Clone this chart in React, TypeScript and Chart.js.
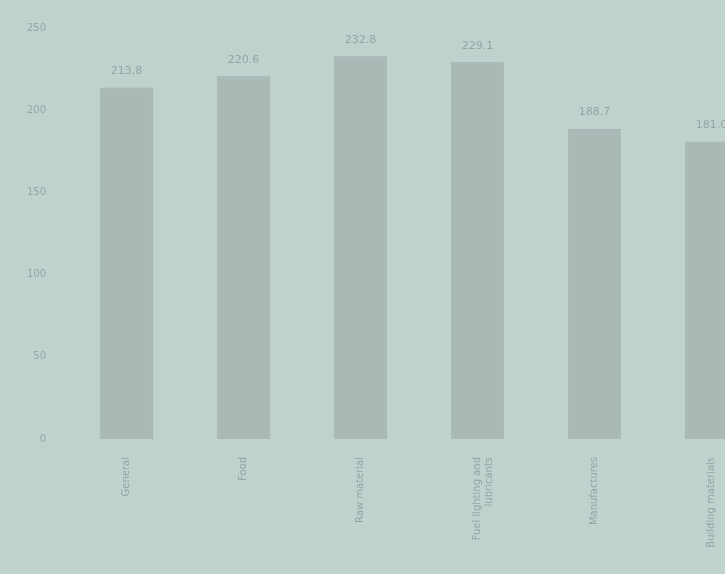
import React, { useEffect, useRef } from "react";
import { Chart, registerables } from "chart.js";

Chart.register(...registerables);

const categories: (string | string[])[] = [
  "General",
  "Food",
  "Raw material",
  ["Fuel lighting and", "lubricants"],
  "Manufactures",
  "Building materials",
];
const values: number[] = [213.8, 220.6, 232.8, 229.1, 188.7, 181.0];
const valueLabels: string[] = ["213.8", "220.6", "232.8", "229.1", "188.7", "181.0"];
const yTicks: number[] = [0, 50, 100, 150, 200, 250];

const BG = "#c0d2ce";
const TEXT = "rgba(140,158,155,0.85)";

export default function App() {
  const ref = useRef<HTMLCanvasElement | null>(null);

  useEffect(() => {
    const canvas = ref.current;
    if (!canvas) return;

    const bgPlugin = {
      id: "bg",
      beforeDraw(chart: any) {
        const { ctx, width, height } = chart;
        ctx.save();
        ctx.fillStyle = BG;
        ctx.fillRect(0, 0, width, height);
        ctx.restore();
      },
    };

    const valuePlugin = {
      id: "values",
      afterDatasetsDraw(chart: any) {
        const { ctx } = chart;
        const meta = chart.getDatasetMeta(0);
        ctx.save();
        ctx.font = "11px 'DejaVu Sans'";
        ctx.fillStyle = TEXT;
        ctx.textAlign = "center";
        ctx.textBaseline = "bottom";
        meta.data.forEach((bar: any, i: number) => {
          ctx.fillText(valueLabels[i], bar.x, bar.y - 11);
        });
        ctx.restore();
      },
    };

    const chart = new Chart(canvas, {
      type: "bar",
      data: {
        labels: categories,
        datasets: [
          {
            data: values,
            backgroundColor: "#abb9b6",
            borderColor: "#9dacaa",
            borderWidth: 1,
            categoryPercentage: 1,
            barPercentage: 0.45,
          },
        ],
      },
      options: {
        responsive: false,
        animation: false,
        layout: { padding: { top: 22, left: 8, right: 0, bottom: 0 } },
        plugins: {
          legend: { display: false },
          tooltip: { enabled: false },
        },
        scales: {
          x: {
            grid: { display: false, drawTicks: false },
            border: { display: false },
            ticks: {
              color: TEXT,
              font: { size: 10, family: "'DejaVu Sans'" },
              minRotation: 90,
              maxRotation: 90,
              padding: 18,
            },
            afterFit: (scale: any) => {
              scale.height = 135;
            },
          },
          y: {
            min: 0,
            max: 250,
            afterBuildTicks: (scale: any) => {
              scale.ticks = yTicks.map((v) => ({ value: v }));
            },
            grid: { display: false, drawTicks: false },
            border: { display: false },
            ticks: {
              color: TEXT,
              font: { size: 10, family: "'DejaVu Sans'" },
              padding: 22,
            },
            afterFit: (scale: any) => {
              scale.width = 60;
            },
          },
        },
      },
      plugins: [bgPlugin, valuePlugin],
    });

    return () => chart.destroy();
  }, []);

  return (
    <div
      style={{
        position: "fixed",
        left: 0,
        top: 0,
        width: 725,
        height: 574,
        overflow: "hidden",
        background: BG,
      }}
    >
      <canvas ref={ref} width={770} height={574} style={{ display: "block" }} />
    </div>
  );
}
